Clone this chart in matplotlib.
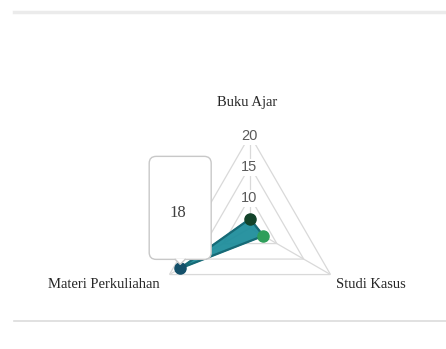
import numpy as np
import matplotlib
matplotlib.use("Agg")
import matplotlib.pyplot as plt
from matplotlib.lines import Line2D
from matplotlib.patches import FancyBboxPatch, Polygon

# data
categories = ["Buku Ajar", "Studi Kasus", "Materi Perkuliahan"]
values = [6.5, 7.5, 18]
point_colors = ["#12432a", "#2f9e5a", "#14506a"]
ring_levels = [10, 15, 20]
r_min, r_max = 5, 20
callout_label = "18"

fig = plt.figure(figsize=(4.46, 3.49), dpi=100)
fig.patch.set_facecolor("white")

# radar axes, center at about (250, 228) px
ax = fig.add_axes([0.3520, 0.0800, 0.4170, 0.5330], projection="polar")
ax.set_theta_offset(np.pi / 2)
ax.set_theta_direction(-1)
ax.set_ylim(r_min, r_max)
ax.grid(False)
ax.set_xticks([])
ax.set_yticks([])
ax.spines["polar"].set_visible(False)
ax.patch.set_alpha(0)

angles = np.linspace(0, 2 * np.pi, len(categories), endpoint=False)
closed = np.append(angles, angles[0])

grid_color = "#d9d9d9"
for lvl in ring_levels:
    ax.plot(closed, [lvl] * len(closed), color=grid_color, lw=0.9, zorder=1)
for a in angles:
    ax.plot([a, a], [r_min, r_max], color=grid_color, lw=0.9, zorder=1)

# tick labels on the top spoke
for lvl in ring_levels:
    ax.annotate(str(lvl), xy=(0, lvl), xytext=(-1, -1), textcoords="offset pixels",
                ha="center", va="center", fontsize=10.5, color="#5a5a5a",
                family="Liberation Sans", zorder=3,
                bbox=dict(boxstyle="square,pad=0.1", fc="white", ec="none"))

# category labels
offsets = [(-3, 33), (40, -10), (-66, -10)]
for a, lab, off in zip(angles, categories, offsets):
    ax.annotate(lab, xy=(a, r_max), xytext=off, textcoords="offset pixels",
                ha="center", va="center", fontsize=10.5, color="#262626",
                family="Liberation Serif", annotation_clip=False)

# series
vals_closed = values + values[:1]
ax.fill(closed, vals_closed, color="#1f8e9c", alpha=0.95, zorder=4)
ax.plot(closed, vals_closed, color="#176a76", lw=1.6, zorder=5)
for a, v, c in zip(angles, values, point_colors):
    ax.plot([a], [v], "o", ms=8, color=c, mec=c, zorder=6)

# callout for Materi Perkuliahan
fig.canvas.draw()
px, py = ax.transData.transform((angles[2], values[2]))
box_l, box_r = px - 31, px + 31
box_b, box_t = py + 9, py + 112
callout_ec = "#c8c8c8"
box = FancyBboxPatch((box_l, box_b), box_r - box_l, box_t - box_b,
                     boxstyle="round,pad=0,rounding_size=7",
                     transform=None, fc="white", ec=callout_ec, lw=1.0, zorder=7)
fig.add_artist(box)
tip = Polygon([(px - 5, box_b + 0.8), (px, py + 4), (px + 5, box_b + 0.8)],
              closed=False, transform=None, fc="white", ec="none", zorder=8)
fig.add_artist(tip)
fig.add_artist(Line2D([px - 5, px, px + 5], [box_b, py + 4, box_b], transform=None,
                      color=callout_ec, lw=1.0, zorder=9))
fig.text((box_l + box_r) / 2 / fig.bbox.width - 2 / 446,
         ((box_b + box_t) / 2 - 5) / fig.bbox.height,
         callout_label, ha="center", va="center", fontsize=12, color="#404040",
         family="Liberation Serif", zorder=10)

# separator rules
fig.add_artist(Line2D([14 / 446, 1], [1 - 12 / 349] * 2, color="#ebebeb", lw=2.5))
fig.add_artist(Line2D([14 / 446, 1], [1 - 321 / 349] * 2, color="#dcdcdc", lw=1.2))

fig.savefig("out.png", dpi=100, facecolor="white")
